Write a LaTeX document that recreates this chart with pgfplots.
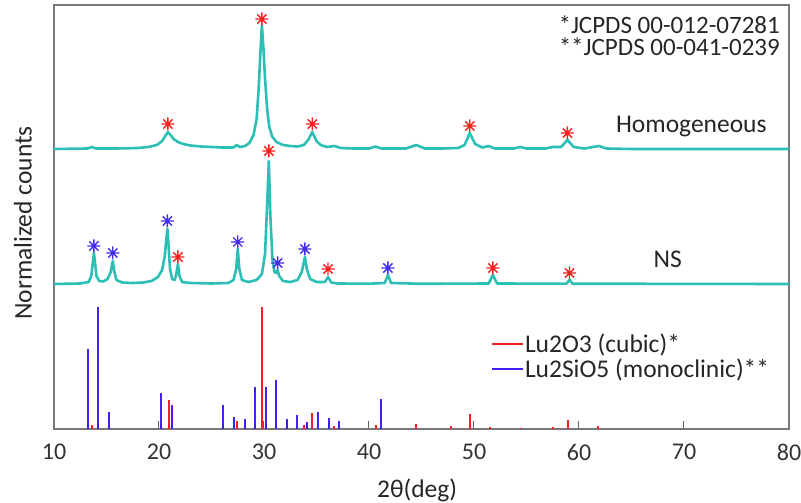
\documentclass[border=0pt]{standalone}
\usepackage{fontspec}
\setmainfont{Carlito}
\usepackage{pgfplots}
\pgfplotsset{compat=1.18}

\definecolor{teal1}{RGB}{43,191,181}
\definecolor{starred}{RGB}{255,30,30}
\definecolor{starblue}{RGB}{65,45,235}
\definecolor{stickred}{RGB}{245,30,40}
\definecolor{stickblue}{RGB}{65,30,250}
\definecolor{axgray}{RGB}{120,120,120}

\newcommand{\lbl}{\fontsize{25.5}{29}\selectfont}
\newcommand{\tkl}{\fontsize{24}{28}\selectfont}

% 8-arm star like the matlab '*' marker
\pgfdeclareplotmark{star8}{%
  \pgfpathmoveto{\pgfpointpolar{0}{\pgfplotmarksize}}\pgfpathlineto{\pgfpointpolar{180}{\pgfplotmarksize}}%
  \pgfpathmoveto{\pgfpointpolar{90}{\pgfplotmarksize}}\pgfpathlineto{\pgfpointpolar{270}{\pgfplotmarksize}}%
  \pgfpathmoveto{\pgfpointpolar{45}{\pgfplotmarksize}}\pgfpathlineto{\pgfpointpolar{225}{\pgfplotmarksize}}%
  \pgfpathmoveto{\pgfpointpolar{135}{\pgfplotmarksize}}\pgfpathlineto{\pgfpointpolar{315}{\pgfplotmarksize}}%
  \pgfusepathqstroke}

\begin{document}
\begin{tikzpicture}
\useasboundingbox (-54pt,-74pt) rectangle (747pt,429pt);
\begin{axis}[
  scale only axis, width=735pt, height=424pt,
  xmin=10, xmax=80, ymin=0, ymax=424,
  xtick={10,20,...,80}, ytick=\empty,
  xtick pos=bottom, tick align=inside,
  major tick length=8pt,
  tick style={axgray!80!black, line width=1pt},
  axis line style={axgray, line width=1.2pt},
  /pgf/number format/assume math mode=true,
  xticklabel style={font=\tkl, text=black!80, anchor=center, yshift=-23pt},
  xlabel={2θ(deg)}, ylabel={Normalized counts},
  xlabel style={font=\lbl, text=black!85, at={(axis description cs:0.494,-0.144)}, anchor=center},
  ylabel style={font=\lbl, text=black!85, at={(axis description cs:-0.0422,0.486)}, anchor=center},
  legend style={font=\lbl, draw=none, fill=none, at={(rel axis cs:0.5905,0.232)}, anchor=north west,
    row sep=3pt, text=black!85, nodes={inner sep=1pt},
    every odd column/.append style={column sep=7pt}},
  legend cell align=left,
  legend image code/.code={\draw[#1, line width=1.8pt] (0pt,0pt) -- (31pt,0pt);},
]
% Lu2SiO5 reference sticks
\addplot[stickblue, line width=2pt, ycomb, forget plot] coordinates {
 (13.2,80) (14.16,122) (15.2,17) (20.18,36) (21.2,24) (26.14,24) (27.16,12) (28.17,10)
 (29.15,42) (30.17,42) (31.19,49) (32.17,10) (33.18,14) (34.13,7) (35.15,17) (36.17,11)
 (37.15,8) (41.1,30)};
% Lu2O3 reference sticks
\addplot[stickred, line width=2pt, ycomb, forget plot] coordinates {
 (13.6,3.5) (21.0,29) (27.4,7.5) (29.79,122) (33.8,3.5) (34.55,16) (36.7,2.5) (40.7,3.5)
 (44.45,4.5) (47.8,2.5) (49.6,15) (51.5,1.5) (54.5,1) (57.5,1.5) (58.95,8.5) (61.8,3)};
\addlegendimage{stickred}
\addlegendentry{Lu2O3 (cubic)*}
\addlegendimage{stickblue}
\addlegendentry{Lu2SiO5 (monoclinic)**}

% Homogeneous pattern
\addplot[teal1, line width=2.6pt, line join=round, forget plot] coordinates {
 (10,280) (12,280.3) (13.2,280.5) (13.6,282) (14.0,280.5) (16,280.5) (18,281) (19,282)
 (19.8,284) (20.3,288) (20.6,293) (20.85,297) (21.1,294) (21.4,290) (21.8,287) (22.3,285)
 (23,283.5) (24,282.5) (25,282) (26,281.5) (27.1,281.5) (27.4,284) (27.7,282) (28.2,283)
 (28.6,286) (29.0,294) (29.3,310) (29.5,342) (29.65,375) (29.8,404) (29.95,380) (30.1,350)
 (30.3,320) (30.5,302) (30.8,292) (31.2,287) (31.8,284) (32.5,283) (33.2,282.5) (33.8,284)
 (34.2,289) (34.6,297) (35.0,288) (35.4,284) (36.0,282) (36.7,283) (37.3,281) (38.5,280.5)
 (40.0,280.5) (40.6,282.5) (41.2,280.5) (43.5,280.5) (44.5,284) (45.3,280.5) (47,280.5)
 (48.5,281) (49.1,284) (49.6,296) (50.1,285) (50.8,281.5) (51.4,283) (52,280.5) (53.8,280.5)
 (54.4,282) (55,280.5) (56.8,280.5) (57.5,282) (58.3,282) (58.9,289) (59.5,282) (60.5,280.5)
 (61.9,283) (62.6,280.5) (65,280) (80,280)};
% NS pattern
\addplot[teal1, line width=2.6pt, line join=round, forget plot] coordinates {
 (10,145) (12.5,145.5) (13.3,147) (13.55,153) (13.7,167) (13.8,176) (13.9,167) (14.05,153)
 (14.3,148) (14.7,147.5) (15.1,150) (15.4,157) (15.6,168) (15.75,157) (15.95,149) (16.5,146.5)
 (17.5,146) (18.5,146.5) (19.3,148) (19.9,152) (20.3,159) (20.55,173) (20.7,190) (20.8,200)
 (20.9,185) (21.05,160) (21.25,150) (21.5,149) (21.65,155) (21.8,165) (21.95,153) (22.2,147)
 (23,146) (25,145.5) (26.6,146) (27.1,149) (27.35,160) (27.5,180) (27.65,160) (27.9,149)
 (28.5,147) (29.3,149) (29.8,155) (30.1,175) (30.3,225) (30.46,268) (30.6,215) (30.8,170)
 (31.0,157) (31.15,156) (31.3,159) (31.45,153) (31.8,148) (32.5,147) (33.2,149) (33.6,157)
 (33.9,172) (34.1,159) (34.4,150) (35,147) (35.8,147) (36.1,152) (36.4,146.5) (37,145.5)
 (40,145.3) (41.5,146) (41.8,154) (42.1,146) (45,145.2) (51.4,145.5) (51.8,154) (52.2,145.5)
 (58.8,145.3) (59.1,149) (59.4,145.3) (80,145)};

% phase markers
\addplot[only marks, mark=star8, mark size=6.5pt, starred, mark options={line width=1.4pt}, forget plot] coordinates {
 (20.85,305) (29.8,410) (34.6,305) (49.6,303) (58.9,296)
 (21.8,172) (30.46,278) (36.1,160) (51.8,161) (59.1,156)};
\addplot[only marks, mark=star8, mark size=6.5pt, starblue, mark options={line width=1.4pt}, forget plot] coordinates {
 (13.8,183) (15.6,176) (20.8,208) (27.5,187) (31.3,166) (33.9,180) (41.8,161)};

\node[font=\lbl, text=black!85, anchor=base] at (axis cs:70.7,296) {Homogeneous};
\node[font=\lbl, text=black!85, anchor=base] at (axis cs:68.44,161) {NS};
\node[font=\fontsize{25}{28}\selectfont, text=black!85, anchor=base east, inner sep=0pt, text height=16pt, text depth=1pt]
  at (axis cs:79.14,395) {*JCPDS 00-012-07281};
\node[font=\fontsize{25}{28}\selectfont, text=black!85, anchor=base east, inner sep=0pt, text height=16pt, text depth=1pt]
  at (axis cs:79.14,373) {**JCPDS 00-041-0239};
\end{axis}
\end{tikzpicture}
\end{document}
